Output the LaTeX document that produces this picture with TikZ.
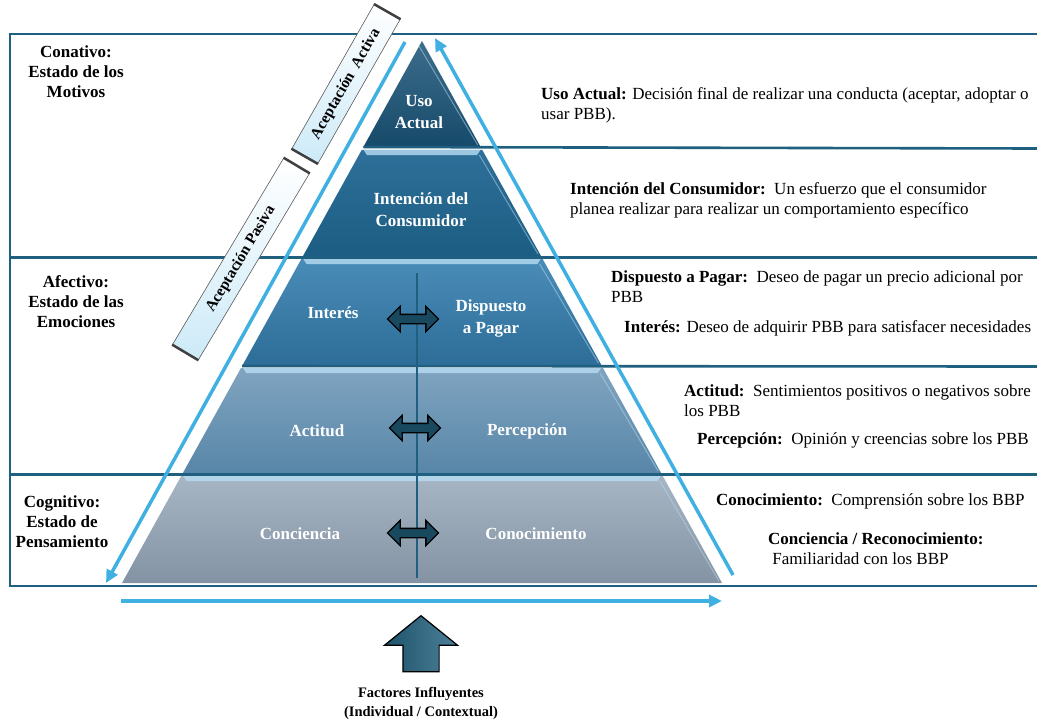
\documentclass[tikz,border=0pt]{standalone}
\usepackage{fontspec}
\setmainfont{LiberationSerif}[Extension=.ttf,UprightFont=*-Regular,BoldFont=*-Bold,ItalicFont=*-Italic,BoldItalicFont=*-BoldItalic]
\usetikzlibrary{calc,shapes.arrows,arrows.meta}

\definecolor{framec}{HTML}{1F5F80}
\definecolor{skyc}{HTML}{40B0E2}
\definecolor{lvAa}{HTML}{3D6D8B}
\definecolor{lvAb}{HTML}{164A6A}
\definecolor{lvBa}{HTML}{2F709A}
\definecolor{lvBb}{HTML}{1C5D83}
\definecolor{lvCa}{HTML}{4A8CB8}
\definecolor{lvCb}{HTML}{2D6D98}
\definecolor{lvDa}{HTML}{80A4C0}
\definecolor{lvDb}{HTML}{5886A8}
\definecolor{lvEa}{HTML}{A6B6C5}
\definecolor{lvEb}{HTML}{8393A3}
\definecolor{hilite}{HTML}{B8DDF2}
\definecolor{arrowc}{HTML}{22617F}
\definecolor{barc}{HTML}{CDEAF8}

\begin{document}
\begin{tikzpicture}[x=1pt,y=-1pt]
\tikzset{frameline/.style={draw=framec,line width=2.6pt},
  flow/.style={draw=skyc,line width=3.5pt,-{Triangle[length=13pt,width=12pt]}},
  lvltext/.style={text=white,font=\bfseries\fontsize{17}{22}\selectfont,align=center},
  state/.style={font=\bfseries\fontsize{17}{20}\selectfont,align=center},
  desc/.style={font=\fontsize{17}{20}\selectfont,align=left,anchor=west,inner sep=0pt},
  swap/.style={double arrow,draw=black,line width=1.3pt,top color=arrowc!75!black,middle color=arrowc!70!white,bottom color=arrowc!75!black,
    inner xsep=0pt,inner ysep=4pt,minimum height=51pt,double arrow head extend=8pt,double arrow tip angle=90},
  acept/.style={rectangle,draw=gray!70!black,line width=.6pt,top color=white,bottom color=barc,
    minimum height=30pt,inner sep=0pt,font=\bfseries\fontsize{15.5}{18}\selectfont}}
\useasboundingbox (0,0) rectangle (1037,721);

\coordinate (apex) at (422,41);
\coordinate (bl) at (122,583);
\coordinate (br) at (722,583);

% pyramid levels
\foreach \ya/\yb/\ca/\cb in {41/147/lvAa/lvAb,150/256/lvBa/lvBb,259/365/lvCa/lvCb,368/473/lvDa/lvDb,476/583/lvEa/lvEb}{
  \shade[top color=\ca,bottom color=\cb] ($(apex)!{(\ya-41)/542}!(bl)$) -- ($(apex)!{(\yb-41)/542}!(bl)$)
    -- ($(apex)!{(\yb-41)/542}!(br)$) -- ($(apex)!{(\ya-41)/542}!(br)$) -- cycle;
  \draw[hilite,opacity=.5,line width=1pt] ($(apex)!{(\ya-41)/542}!(br)+(-3,5)$) -- ($(apex)!{(\yb-41)/542}!(br)+(-3,-2)$);
}
\foreach \ya in {150,259,368,476}{
  \fill[hilite,opacity=.8] ($(apex)!{(\ya-41)/542}!(bl)+(2,0)$) -- ($(apex)!{(\ya-41)/542}!(br)+(-2,0)$)
    -- ($(apex)!{(\ya-36)/542}!(br)+(-8,0)$) -- ($(apex)!{(\ya-36)/542}!(bl)+(8,0)$) -- cycle;
}

% frame
\draw[frameline] (1037,34) -- (10,34) -- (10,586) -- (1037,586);
\draw[frameline] ($(apex)!{106/542}!(bl)$) -- (1037,148.5);
\draw[frameline] (10,257.5) -- (1037,257.5);
\draw[frameline] ($(apex)!{325/542}!(bl)$) -- (1037,366.5);
\draw[frameline] (10,474.5) -- (1037,474.5);

\coordinate (midtop) at (417,273);
\coordinate (midbot) at (417,578);
\draw[framec,line width=1.5pt] (midtop) -- (midbot);

% level texts
\node[lvltext] (uso) at (419,112) {Uso\\Actual};
\node[lvltext] (intencion) at (421,210) {Intención del\\Consumidor};
\node[lvltext] (interes) at (333,313) {Interés};
\node[lvltext] (dispuesto) at (491,318) {Dispuesto\\a Pagar};
\node[lvltext] (actitud) at (317,431) {Actitud};
\node[lvltext] (percepcion) at (527,431) {Percepción};
\node[lvltext] (conciencia) at (300,534) {Conciencia};
\node[lvltext] (conocim) at (536,534) {Conocimiento};

\node[swap] (swapA) at (413,319) {};
\node[swap] (swapB) at (415,428) {};
\node[swap] (swapC) at (413,533) {};

% flow arrows
\coordinate (lfrom) at (405,42);
\coordinate (lto) at (106,583);
\coordinate (rfrom) at (733,575);
\coordinate (rto) at (435,38);
\coordinate (bfrom) at (121,601);
\coordinate (bto) at (722,601);
\draw[flow] (lfrom) -- (lto);
\draw[flow] (rfrom) -- (rto);
\draw[flow] (bfrom) -- (bto);

% acceptance bars
\node[acept,minimum width=166pt,rotate=60.3] (activa) at (346,84) {Aceptación\ \ Activa};
\node[acept,minimum width=217pt,rotate=59.2] (pasiva) at (241,259) {Aceptación Pasiva};
\draw[gray!50!black,line width=2.5pt] (activa.north east) -- (activa.south east);
\draw[gray!50!black,line width=2.5pt] (activa.north west) -- (activa.south west);
\draw[gray!50!black,line width=2.5pt] (pasiva.north east) -- (pasiva.south east);
\draw[gray!50!black,line width=2.5pt] (pasiva.north west) -- (pasiva.south west);

% states
\node[state] (conativo) at (76,72) {Conativo:\\Estado de los\\Motivos};
\node[state] (afectivo) at (76,302) {Afectivo:\\Estado de las\\Emociones};
\node[state] (cognitivo) at (62,522) {Cognitivo:\\Estado de\\Pensamiento};

% descriptions
\node[desc] (dUso) at (541,105) {\textbf{Uso Actual:} Decisión final de realizar una conducta (aceptar, adoptar o\\usar PBB).};
\node[desc] (dIntencion) at (570,200.5) {\textbf{Intención del Consumidor:}\ \ Un esfuerzo que el consumidor\\planea realizar para realizar un comportamiento específico};
\node[desc] (dDispuesto) at (611,287) {\textbf{Dispuesto a Pagar:}\ \ Deseo de pagar un precio adicional por\\PBB};
\node[desc] (dInteres) at (624,328) {\textbf{Interés:} Deseo de adquirir PBB para satisfacer necesidades};
\node[desc] (dActitud) at (684,400.5) {\textbf{Actitud:}\ \ Sentimientos positivos o negativos sobre\\los PBB};
\node[desc] (dPercepcion) at (697,440) {\textbf{Percepción:}\ \ Opinión y creencias sobre los PBB};
\node[desc] (dConocim) at (716,501) {\textbf{Conocimiento:}\ \ Comprensión sobre los BBP};
\node[desc] (dConciencia) at (768,549) {\textbf{Conciencia / Reconocimiento:}\\\ Familiaridad con los BBP};

% influencing factors
\node[single arrow,draw=black,line width=1.2pt,left color=arrowc!85!black,right color=arrowc!80!white,
  inner xsep=0pt,inner ysep=17.5pt,minimum height=56pt,single arrow head extend=18.5pt,
  single arrow tip angle=102,rotate=90] (upArrow) at (421,651) {};
\node[state,font=\bfseries\fontsize{14.5}{19}\selectfont] (factores) at (421,703) {Factores Influyentes\\(Individual / Contextual)};
\end{tikzpicture}
\end{document}
